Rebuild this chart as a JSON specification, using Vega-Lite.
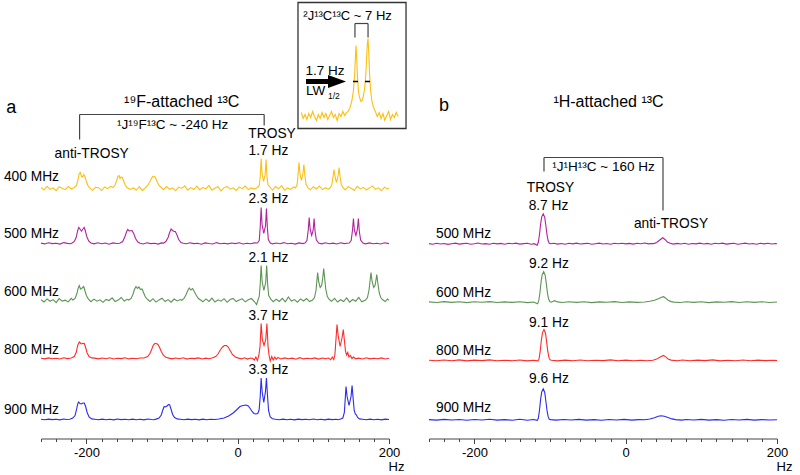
{
"$schema": "https://vega.github.io/schema/vega-lite/v6.json",
"padding": {"left": 3, "top": 1.5, "right": 5, "bottom": 5},
"background": "white",
"config": {
  "view": {"stroke": null},
  "font": "Liberation Sans",
  "text": {"font": "Liberation Sans", "color": "black", "baseline": "middle"},
  "axis": {"labelFont": "Liberation Sans", "titleFont": "Liberation Sans", "labelFontSize": 13, "labelColor": "black", "tickSize": {"condition": {"test": "datum.value % 200 == 0", "value": 5}, "value": 3}, "labelPadding": 3, "domainColor": "#444", "tickColor": "#444", "grid": false, "labelFlush": false, "labelOverlap": false, "titleFontWeight": "normal", "titleFontSize": 13, "titleColor": "black", "titleX": 347, "titleY": 28, "titleAlign": "left", "titleBaseline": "middle"}
},
"datasets": {
"a400": [{"x":-260,"y":251.0},{"x":-256,"y":248.5},{"x":-252,"y":252.2},{"x":-248,"y":249.2},{"x":-244,"y":250.5},{"x":-240,"y":247.8},{"x":-236,"y":251.8},{"x":-232,"y":250.2},{"x":-228,"y":248.8},{"x":-224,"y":252.0},{"x":-220,"y":249.5},
{"x":-216,"y":251},{"x":-213,"y":253},{"x":-211,"y":259},{"x":-209.5,"y":265},{"x":-208,"y":266},{"x":-206.5,"y":262},{"x":-205,"y":261.5},{"x":-203.5,"y":264},{"x":-202,"y":262},{"x":-200,"y":257},{"x":-198,"y":253},{"x":-196,"y":250.8},
{"x":-192,"y":248.2},{"x":-188,"y":251.2},{"x":-184,"y":250.8},{"x":-180,"y":248.0},{"x":-176,"y":251.5},{"x":-172,"y":249.8},{"x":-168,"y":252.2},
{"x":-165,"y":251},{"x":-162,"y":253.5},{"x":-160,"y":258},{"x":-158.5,"y":262},{"x":-157,"y":263},{"x":-155.5,"y":260},{"x":-154,"y":261.5},{"x":-152.5,"y":261},{"x":-151,"y":258},{"x":-149,"y":254},{"x":-146.5,"y":251},
{"x":-142,"y":249.0},{"x":-138,"y":250.5},{"x":-134,"y":248.5},{"x":-130,"y":251.8},{"x":-126,"y":247.8},
{"x":-122,"y":250.8},{"x":-119,"y":253},{"x":-116,"y":257},{"x":-114,"y":260},{"x":-112.5,"y":262},{"x":-111,"y":261.5},{"x":-109.5,"y":262},{"x":-108,"y":259.5},{"x":-106,"y":256},{"x":-104,"y":253},{"x":-101,"y":251},
{"x":-98,"y":248.8},{"x":-94,"y":252.0},{"x":-90,"y":249.2},{"x":-86,"y":250.6},{"x":-82,"y":247.9},{"x":-78,"y":251.4},{"x":-74,"y":250.1},{"x":-70,"y":252.6},{"x":-66,"y":248.3},{"x":-62,"y":250.9},{"x":-58,"y":249.0},{"x":-54,"y":252.3},{"x":-50,"y":248.6},{"x":-46,"y":251.1},{"x":-42,"y":249.6},{"x":-38,"y":253.0},{"x":-34,"y":248.2},{"x":-30,"y":250.5},{"x":-26,"y":251.8},{"x":-22,"y":247.7},{"x":-18,"y":250.9},{"x":-14,"y":252.1},{"x":-10,"y":249.3},{"x":-6,"y":250.7},{"x":-2,"y":248.1},{"x":2,"y":251.6},{"x":6,"y":249.8},{"x":10,"y":252.4},{"x":14,"y":248.9},{"x":18,"y":250.6},{"x":22,"y":249.4},
{"x":26,"y":251},{"x":28.5,"y":253},{"x":29.8,"y":262},{"x":31,"y":280},{"x":32.2,"y":265},{"x":34.2,"y":257},{"x":36.3,"y":264},{"x":37.5,"y":279},{"x":38.7,"y":262},{"x":40,"y":254},{"x":43,"y":251},
{"x":46,"y":248.5},{"x":50,"y":251.9},{"x":54,"y":249.7},{"x":58,"y":252.8},{"x":62,"y":248.4},{"x":66,"y":250.6},{"x":70,"y":249.1},{"x":74,"y":251.5},
{"x":76.5,"y":250.5},{"x":78.5,"y":254},{"x":79.8,"y":264},{"x":81,"y":276},{"x":82.3,"y":265},{"x":84.2,"y":258},{"x":86.2,"y":265},{"x":87.5,"y":274},{"x":88.8,"y":263},{"x":90.5,"y":254},{"x":93,"y":250.5},
{"x":96,"y":248.7},{"x":100,"y":251.8},{"x":104,"y":249.5},{"x":108,"y":252.5},{"x":112,"y":248.9},{"x":116,"y":250.8},{"x":120,"y":249.3},
{"x":122.5,"y":251},{"x":124.5,"y":254},{"x":126,"y":262},{"x":127.3,"y":269},{"x":128.6,"y":262},{"x":130.6,"y":256},{"x":132.7,"y":263},{"x":134,"y":271},{"x":135.3,"y":262},{"x":137,"y":254},{"x":139.5,"y":250.5},
{"x":142,"y":248.6},{"x":146,"y":251.9},{"x":150,"y":250.2},{"x":154,"y":248.0},{"x":158,"y":252.1},{"x":162,"y":249.6},{"x":166,"y":251.2},{"x":170,"y":248.7},{"x":174,"y":250.4},{"x":178,"y":252.6},{"x":182,"y":249.1},{"x":186,"y":250.7},{"x":190,"y":247.9},{"x":194,"y":251.3},{"x":198,"y":249.6},{"x":200,"y":250.4}],
"a500": [{"x":-260,"y":195.4},{"x":-255,"y":194.6},{"x":-250,"y":195.8},{"x":-245,"y":194.9},{"x":-240,"y":195.3},{"x":-235,"y":194.4},{"x":-230,"y":195.9},{"x":-225,"y":195.1},{"x":-221,"y":194.7},
{"x":-219,"y":195.5},{"x":-216,"y":197},{"x":-213.5,"y":201},{"x":-211.5,"y":208},{"x":-210,"y":211},{"x":-208.5,"y":209.5},{"x":-206.5,"y":207.5},{"x":-204.5,"y":209.5},{"x":-203,"y":211},{"x":-201.5,"y":208},{"x":-199.5,"y":202},{"x":-197,"y":197.5},{"x":-194,"y":195.5},
{"x":-190,"y":194.6},{"x":-185,"y":195.7},{"x":-180,"y":194.8},{"x":-175,"y":195.5},{"x":-170,"y":194.3},{"x":-165,"y":195.6},{"x":-160,"y":195.0},
{"x":-156,"y":195.3},{"x":-152,"y":197},{"x":-149,"y":202},{"x":-147,"y":206.5},{"x":-145.4,"y":209},{"x":-143.5,"y":207.5},{"x":-142,"y":207.8},{"x":-139.7,"y":208},{"x":-137.5,"y":205},{"x":-135,"y":200},{"x":-132,"y":196.5},{"x":-129,"y":195.2},
{"x":-125,"y":194.5},{"x":-120,"y":195.7},{"x":-115,"y":194.9},{"x":-110,"y":195.3},{"x":-105,"y":194.4},{"x":-101,"y":195.6},
{"x":-98,"y":195.4},{"x":-95,"y":197},{"x":-92,"y":201},{"x":-90,"y":206},{"x":-88,"y":209.5},{"x":-86,"y":208},{"x":-84,"y":207},{"x":-82.5,"y":207},{"x":-80.5,"y":204},{"x":-78,"y":199},{"x":-75,"y":196},{"x":-72,"y":195.3},
{"x":-68,"y":194.7},{"x":-63,"y":195.8},{"x":-58,"y":194.9},{"x":-53,"y":195.2},{"x":-48,"y":194.3},{"x":-43,"y":195.6},{"x":-38,"y":195.0},{"x":-33,"y":194.5},{"x":-28,"y":195.9},{"x":-23,"y":194.8},{"x":-18,"y":195.3},{"x":-13,"y":194.6},{"x":-8,"y":195.5},{"x":-3,"y":194.9},{"x":2,"y":195.7},{"x":7,"y":194.5},{"x":12,"y":195.2},{"x":17,"y":194.7},{"x":22,"y":195.6},
{"x":26,"y":195.5},{"x":28.5,"y":198},{"x":29.8,"y":212},{"x":31,"y":231},{"x":32.2,"y":214},{"x":34.5,"y":205},{"x":36.8,"y":213},{"x":38,"y":230},{"x":39.2,"y":211},{"x":40.5,"y":199},{"x":43,"y":195.5},
{"x":46,"y":194.6},{"x":51,"y":195.5},{"x":56,"y":194.8},{"x":61,"y":195.9},{"x":66,"y":194.7},{"x":71,"y":195.2},{"x":76,"y":194.4},{"x":81,"y":195.6},{"x":86,"y":194.9},
{"x":89,"y":195.5},{"x":91.5,"y":198},{"x":93.2,"y":208},{"x":94.5,"y":221},{"x":95.8,"y":209},{"x":97.8,"y":203},{"x":99.7,"y":208},{"x":101,"y":220},{"x":102.3,"y":207},{"x":104,"y":198.5},{"x":107,"y":195.5},
{"x":111,"y":194.6},{"x":116,"y":195.7},{"x":121,"y":194.8},{"x":126,"y":195.4},{"x":131,"y":194.5},{"x":136,"y":195.8},{"x":141,"y":194.9},{"x":144.5,"y":195.2},
{"x":147.5,"y":195.5},{"x":150,"y":198},{"x":151.7,"y":208},{"x":153,"y":220},{"x":154.3,"y":208},{"x":156.3,"y":203},{"x":158.2,"y":209},{"x":159.5,"y":220},{"x":160.8,"y":207},{"x":162.5,"y":198.5},{"x":165.5,"y":195.4},
{"x":169,"y":194.6},{"x":174,"y":195.6},{"x":179,"y":194.7},{"x":184,"y":195.3},{"x":189,"y":194.5},{"x":194,"y":195.8},{"x":200,"y":194.9}],
"a600": [{"x":-260,"y":138.8},{"x":-256,"y":136.5},{"x":-252,"y":139.6},{"x":-248,"y":137.2},{"x":-244,"y":138.9},{"x":-240,"y":135.8},{"x":-236,"y":139.9},{"x":-232,"y":137.4},{"x":-228,"y":138.3},{"x":-224,"y":136.6},{"x":-220,"y":140.2},
{"x":-218,"y":138.5},{"x":-215,"y":140},{"x":-212.5,"y":145},{"x":-211,"y":150},{"x":-209.4,"y":153},{"x":-207.8,"y":149.5},{"x":-206.2,"y":150},{"x":-205,"y":151},{"x":-203.6,"y":152},{"x":-202,"y":148},{"x":-200,"y":143},{"x":-197.5,"y":139.5},
{"x":-194,"y":136.8},{"x":-190,"y":139.4},{"x":-186,"y":137.3},{"x":-182,"y":138.7},{"x":-178,"y":136.2},{"x":-174,"y":139.1},{"x":-170,"y":138.0},{"x":-166,"y":140.6},{"x":-162,"y":136.9},{"x":-158,"y":138.4},{"x":-154,"y":141.0},{"x":-150,"y":137.5},{"x":-146,"y":139.2},
{"x":-144,"y":138.5},{"x":-141,"y":140},{"x":-138.5,"y":144},{"x":-136.5,"y":149},{"x":-134.4,"y":152},{"x":-132.5,"y":150},{"x":-130.5,"y":151.5},{"x":-128.5,"y":149},{"x":-126.5,"y":149.5},{"x":-124.5,"y":146},{"x":-122,"y":141.5},{"x":-119,"y":139},
{"x":-116,"y":137.1},{"x":-112,"y":139.8},{"x":-108,"y":136.4},{"x":-104,"y":138.6},{"x":-100,"y":140.3},{"x":-96,"y":137.0},{"x":-92,"y":138.9},{"x":-88,"y":136.3},{"x":-84,"y":139.5},{"x":-80,"y":137.6},{"x":-76,"y":139.0},
{"x":-74,"y":138.2},{"x":-71,"y":140},{"x":-68.5,"y":143.5},{"x":-66,"y":148},{"x":-64,"y":150.5},{"x":-62,"y":148.5},{"x":-59.5,"y":150},{"x":-57.5,"y":147},{"x":-55,"y":143.5},{"x":-52,"y":140},{"x":-49,"y":138.5},
{"x":-46,"y":136.7},{"x":-42,"y":139.6},{"x":-38,"y":137.1},{"x":-34,"y":140.4},{"x":-30,"y":136.5},{"x":-26,"y":138.7},{"x":-22,"y":137.3},{"x":-18,"y":139.8},{"x":-14,"y":136.2},{"x":-10,"y":138.9},{"x":-6,"y":140.1},{"x":-2,"y":136.9},{"x":2,"y":138.4},{"x":6,"y":139.7},{"x":10,"y":136.6},{"x":14,"y":138.8},{"x":18,"y":140.0},
{"x":22,"y":137},{"x":25,"y":134},{"x":27,"y":139},{"x":28.5,"y":142},{"x":29.8,"y":155},{"x":31,"y":173},{"x":32.3,"y":157},{"x":34.6,"y":148},{"x":37,"y":156},{"x":38.3,"y":173},{"x":39.6,"y":154},{"x":41,"y":143},{"x":44,"y":139},
{"x":47,"y":136.8},{"x":51,"y":139.3},{"x":55,"y":137.0},{"x":59,"y":140.2},{"x":63,"y":136.6},{"x":67,"y":141.5},{"x":71,"y":137.4},{"x":75,"y":138.9},{"x":79,"y":136.3},{"x":83,"y":139.6},{"x":87,"y":137.5},{"x":91,"y":140.0},{"x":95,"y":136.9},
{"x":99,"y":138.5},{"x":101.5,"y":141},{"x":103.5,"y":148},{"x":104.7,"y":158},{"x":105.7,"y":166},{"x":107,"y":157},{"x":109,"y":151},{"x":111,"y":153},{"x":112.5,"y":161},{"x":113.7,"y":170},{"x":115,"y":160},{"x":116.5,"y":149},{"x":118.5,"y":142},{"x":121,"y":139},
{"x":124,"y":137.2},{"x":128,"y":140.1},{"x":132,"y":136.5},{"x":136,"y":138.8},{"x":140,"y":137.0},{"x":144,"y":140.5},{"x":148,"y":136.4},{"x":152,"y":139.0},{"x":156,"y":137.3},{"x":160,"y":141.0},{"x":164,"y":136.8},
{"x":169,"y":138.5},{"x":171.5,"y":141},{"x":173.5,"y":148},{"x":175,"y":158},{"x":176.2,"y":166},{"x":177.7,"y":157},{"x":179.8,"y":151},{"x":181.5,"y":153},{"x":182.7,"y":158},{"x":183.8,"y":164},{"x":185.3,"y":155},{"x":187,"y":146},{"x":189,"y":141},{"x":192,"y":138.5},
{"x":195,"y":137.0},{"x":198,"y":139.5},{"x":200,"y":138.2}],
"a800": [{"x":-260,"y":80.3},{"x":-255,"y":79.6},{"x":-250,"y":80.6},{"x":-245,"y":79.8},{"x":-240,"y":80.2},{"x":-235,"y":79.5},{"x":-230,"y":80.7},{"x":-225,"y":79.9},
{"x":-220,"y":80.5},{"x":-216,"y":82},{"x":-213.5,"y":86},{"x":-211.5,"y":93},{"x":-209.4,"y":96.5},{"x":-207.5,"y":95},{"x":-206,"y":94.5},{"x":-204.5,"y":95.2},{"x":-202.8,"y":95},{"x":-201,"y":91},{"x":-199,"y":85.5},{"x":-196.5,"y":82},{"x":-193,"y":80.6},
{"x":-189,"y":80.4},{"x":-184,"y":79.6},{"x":-179,"y":80.5},{"x":-174,"y":79.8},{"x":-169,"y":80.7},{"x":-164,"y":79.5},{"x":-159,"y":80.3},{"x":-154,"y":79.9},{"x":-149,"y":80.8},{"x":-144,"y":79.6},{"x":-139,"y":80.2},{"x":-134,"y":79.7},{"x":-129,"y":80.5},
{"x":-124,"y":80.5},{"x":-119,"y":82},{"x":-116,"y":85},{"x":-113.5,"y":89.5},{"x":-111.5,"y":93.5},{"x":-109.5,"y":95},{"x":-107.5,"y":95},{"x":-105.5,"y":94},{"x":-103.5,"y":91.5},{"x":-101,"y":87},{"x":-98.5,"y":83.5},{"x":-95,"y":81.2},{"x":-91,"y":80.4},
{"x":-87,"y":79.6},{"x":-82,"y":80.5},{"x":-77,"y":79.8},{"x":-72,"y":80.7},{"x":-67,"y":79.4},{"x":-62,"y":80.3},{"x":-57,"y":79.9},{"x":-52,"y":80.6},{"x":-47,"y":79.5},{"x":-42,"y":80.4},{"x":-38,"y":79.8},
{"x":-34,"y":80.5},{"x":-29,"y":82},{"x":-26,"y":84.5},{"x":-23,"y":88.5},{"x":-20,"y":91.5},{"x":-17.5,"y":93},{"x":-15,"y":93},{"x":-12.5,"y":91.5},{"x":-10,"y":88},{"x":-7,"y":84},{"x":-3,"y":81.5},{"x":1,"y":80.4},
{"x":5,"y":79.6},{"x":9,"y":80.7},{"x":13,"y":79.4},{"x":17,"y":80.5},
{"x":20,"y":80},{"x":22,"y":78.5},{"x":24,"y":81.5},{"x":26,"y":78},{"x":28,"y":83},{"x":29.5,"y":92},{"x":31,"y":115},{"x":32.5,"y":99},{"x":34.8,"y":93},{"x":37.1,"y":99},{"x":38.6,"y":115},{"x":40.1,"y":92},{"x":41.5,"y":83},{"x":43,"y":77.5},{"x":45,"y":82},{"x":47,"y":78.5},{"x":49,"y":81.5},{"x":51,"y":79.2},{"x":53,"y":81},
{"x":57,"y":79.5},{"x":62,"y":80.6},{"x":67,"y":79.7},{"x":72,"y":80.4},{"x":77,"y":79.3},{"x":82,"y":80.8},{"x":87,"y":79.6},{"x":92,"y":80.3},{"x":97,"y":79.8},{"x":102,"y":80.6},{"x":107,"y":79.4},{"x":112,"y":80.5},{"x":116,"y":79.7},
{"x":120,"y":80.5},{"x":123,"y":78.8},{"x":125,"y":81.5},{"x":127,"y":79},{"x":128.5,"y":84},{"x":129.8,"y":98},{"x":131.3,"y":114},{"x":132.8,"y":103},{"x":135.4,"y":92},{"x":138,"y":101},{"x":139.6,"y":109},{"x":141.2,"y":97},{"x":142.5,"y":87},{"x":144,"y":83.5},{"x":145.5,"y":86},{"x":147,"y":81.5},{"x":149,"y":83},{"x":151,"y":80},{"x":153,"y":81.5},{"x":156,"y":79.7},
{"x":160,"y":80.4},{"x":165,"y":79.5},{"x":170,"y":80.7},{"x":175,"y":79.6},{"x":180,"y":80.3},{"x":185,"y":79.8},{"x":190,"y":80.6},{"x":195,"y":79.5},{"x":200,"y":80.2}],
"a900": [{"x":-260,"y":19.2},{"x":-255,"y":18.7},{"x":-250,"y":19.4},{"x":-245,"y":18.9},{"x":-240,"y":19.3},{"x":-235,"y":18.6},{"x":-230,"y":19.5},{"x":-226,"y":19.0},
{"x":-222,"y":19.3},{"x":-218,"y":20.5},{"x":-215,"y":23},{"x":-213,"y":29},{"x":-211.5,"y":34.5},{"x":-210.2,"y":36.5},{"x":-208.5,"y":35},{"x":-206.5,"y":34.5},{"x":-204.5,"y":35.5},{"x":-202.8,"y":35.5},{"x":-201,"y":32},{"x":-199,"y":26},{"x":-196.5,"y":21.5},{"x":-193,"y":19.6},
{"x":-189,"y":19.3},{"x":-184,"y":18.7},{"x":-179,"y":19.4},{"x":-174,"y":18.8},{"x":-169,"y":19.2},{"x":-164,"y":18.6},{"x":-159,"y":19.5},{"x":-154,"y":18.9},{"x":-149,"y":19.3},{"x":-144,"y":18.7},{"x":-139,"y":19.4},{"x":-134,"y":18.8},{"x":-129,"y":19.2},{"x":-124,"y":18.6},{"x":-119,"y":19.5},{"x":-114,"y":19.0},{"x":-111,"y":18.8},
{"x":-108,"y":19.4},{"x":-104,"y":20.5},{"x":-101,"y":23.5},{"x":-99,"y":28.5},{"x":-97.2,"y":32},{"x":-95.5,"y":31.5},{"x":-93.5,"y":32.5},{"x":-91.5,"y":34},{"x":-90,"y":33.8},{"x":-88,"y":29},{"x":-86,"y":24},{"x":-83.5,"y":21},{"x":-80,"y":19.6},
{"x":-76,"y":19.3},{"x":-71,"y":18.7},{"x":-66,"y":19.4},{"x":-61,"y":18.9},{"x":-56,"y":19.2},{"x":-51,"y":18.6},{"x":-46,"y":19.4},{"x":-41,"y":18.8},{"x":-36,"y":19.3},{"x":-30,"y":19.0},
{"x":-25,"y":19.5},{"x":-18,"y":20.5},{"x":-12,"y":22.5},{"x":-6,"y":25.5},{"x":-1,"y":29},{"x":3,"y":32},{"x":7,"y":33},{"x":11,"y":33.5},{"x":14,"y":32.5},{"x":16.5,"y":30},{"x":19,"y":27},{"x":21.5,"y":25},{"x":24,"y":24.5},{"x":26.5,"y":25},{"x":28.3,"y":28.5},{"x":29.8,"y":42},{"x":31,"y":60.5},{"x":32.3,"y":47},{"x":34.5,"y":36},{"x":36.7,"y":47},{"x":38,"y":60.5},{"x":39.3,"y":44},{"x":40.8,"y":28},{"x":43,"y":21.5},{"x":46,"y":19.8},
{"x":50,"y":19.2},{"x":55,"y":18.7},{"x":60,"y":19.4},{"x":65,"y":18.8},{"x":70,"y":19.3},{"x":75,"y":18.6},{"x":80,"y":19.4},{"x":85,"y":18.9},{"x":90,"y":19.2},{"x":95,"y":18.7},{"x":100,"y":19.5},{"x":105,"y":18.8},{"x":110,"y":19.3},{"x":115,"y":18.6},{"x":120,"y":19.4},{"x":125,"y":18.9},{"x":130,"y":19.2},{"x":133,"y":18.8},
{"x":136,"y":19.5},{"x":139,"y":20.5},{"x":141,"y":26},{"x":142,"y":38},{"x":143.2,"y":52},{"x":144.6,"y":42},{"x":147.2,"y":33},{"x":149.8,"y":42},{"x":151.2,"y":53},{"x":152.6,"y":40},{"x":154,"y":28},{"x":155.5,"y":24.5},{"x":157,"y":23.5},{"x":158.5,"y":21},{"x":161,"y":19.6},
{"x":165,"y":19.3},{"x":170,"y":18.7},{"x":175,"y":19.4},{"x":180,"y":18.8},{"x":185,"y":19.3},{"x":190,"y":18.6},{"x":195,"y":19.4},{"x":200,"y":19.0}],
"inset": [{"x":84,"y":326},{"x":86.5,"y":320},{"x":89,"y":324},{"x":91.5,"y":319},{"x":94,"y":325},{"x":96.5,"y":321},{"x":99,"y":327},{"x":101.5,"y":322},{"x":104,"y":318},{"x":106.5,"y":324},{"x":109,"y":320},{"x":111.5,"y":326},{"x":114,"y":321},{"x":116.5,"y":325},{"x":119,"y":319},{"x":121.5,"y":323},{"x":124,"y":327},{"x":126.5,"y":321},{"x":129,"y":324},{"x":131.5,"y":318},{"x":134,"y":325},{"x":136.5,"y":322},{"x":139,"y":327},{"x":141.5,"y":323},{"x":144,"y":326},
{"x":146,"y":327},{"x":148.5,"y":331},{"x":151,"y":338},{"x":153,"y":348},{"x":154.7,"y":365},{"x":155.7,"y":383},{"x":156.4,"y":393},{"x":157.2,"y":382},{"x":158.3,"y":362},{"x":159.8,"y":346},{"x":161.5,"y":340},{"x":163,"y":337},{"x":164.5,"y":338},{"x":166,"y":342},{"x":167.8,"y":350},{"x":169.5,"y":366},{"x":170.7,"y":385},{"x":171.5,"y":396},{"x":172.3,"y":400},{"x":173.1,"y":388},{"x":174.3,"y":365},{"x":175.8,"y":347},{"x":177.5,"y":337},{"x":179.5,"y":331},{"x":182,"y":327},
{"x":184.5,"y":322},{"x":187,"y":326},{"x":189.5,"y":320},{"x":192,"y":325},{"x":194.5,"y":318},{"x":197,"y":323},{"x":199.5,"y":327},{"x":202,"y":319},{"x":204.5,"y":324},{"x":207,"y":321},{"x":209.5,"y":326},{"x":212,"y":322}],
"shapesA": [{"g":"bracket","x":-209,"y":324,"x2":35,"y2":324},{"g":"bracket","x":-209,"y":324,"x2":-209,"y2":299},{"g":"bracket","x":35,"y":324,"x2":35,"y2":313},
{"g":"bracket","x":155,"y":415,"x2":172.3,"y2":415},{"g":"bracket","x":155,"y":415,"x2":155,"y2":401},{"g":"bracket","x":172.3,"y":415,"x2":172.3,"y2":401},
{"g":"half","x":152.4,"y":357,"x2":159,"y2":357},{"g":"half","x":168.3,"y":357,"x2":174.9,"y2":357},
{"g":"arrow","x":90.3,"y":357,"x2":126,"y2":357},{"g":"head","x":131.3,"y":357,"x2":131.3,"y2":357},
{"g":"box","x":79.7,"y":310,"x2":222.5,"y2":436}],
"textA": [{"g":"panel","x":-306,"y":331,"t":"a"},
{"g":"title","x":-74,"y":337,"t":"¹⁹F-attached ¹³C"},
{"g":"coupling","x":-86,"y":314,"t":"¹J¹⁹F¹³C ~ -240 Hz"},
{"g":"peak","x":-193,"y":285,"t":"anti-TROSY"},
{"g":"peak","x":45.4,"y":305,"t":"TROSY"},
{"g":"peak","x":40.7,"y":288,"t":"1.7 Hz"},
{"g":"peak","x":40.7,"y":240,"t":"2.3 Hz"},
{"g":"peak","x":40.7,"y":181,"t":"2.1 Hz"},
{"g":"peak","x":40.7,"y":123,"t":"3.7 Hz"},
{"g":"peak","x":40.7,"y":69,"t":"3.3 Hz"},
{"g":"field","x":-309,"y":262,"t":"400 MHz"},
{"g":"field","x":-309,"y":205,"t":"500 MHz"},
{"g":"field","x":-309,"y":147,"t":"600 MHz"},
{"g":"field","x":-309,"y":89,"t":"800 MHz"},
{"g":"field","x":-309,"y":29,"t":"900 MHz"},
{"g":"insetTitle","x":145.2,"y":423,"t":"²J¹³C¹³C ~ 7 Hz"},
{"g":"insetLabel","x":115.4,"y":368,"t":"1.7 Hz"},
{"g":"lw","x":90.3,"y":348,"t":"LW"},
{"g":"sub","x":119.4,"y":343,"t":"1/2"}],
"b500": [{"x":-260,"y":194.9},{"x":-255,"y":194.3},{"x":-250,"y":195.2},{"x":-245,"y":194.5},{"x":-240,"y":195.0},{"x":-235,"y":194.1},{"x":-230,"y":194.8},{"x":-225,"y":195.4},{"x":-220,"y":194.4},{"x":-215,"y":194.9},{"x":-210,"y":195.3},{"x":-205,"y":194.2},{"x":-200,"y":194.8},{"x":-195,"y":195.5},{"x":-190,"y":194.5},{"x":-185,"y":194.9},{"x":-180,"y":194.2},{"x":-175,"y":195.3},{"x":-170,"y":194.6},{"x":-165,"y":195.1},{"x":-160,"y":194.3},{"x":-155,"y":195.2},{"x":-150,"y":194.7},{"x":-145,"y":195.4},{"x":-140,"y":194.4},{"x":-135,"y":194.9},{"x":-130,"y":195.3},{"x":-125,"y":194.2},{"x":-121,"y":194.8},
{"x":-117,"y":193.2},{"x":-115.5,"y":196.2},{"x":-114,"y":203.7},{"x":-112.5,"y":214.2},{"x":-111,"y":221.7},{"x":-109,"y":224.7},{"x":-107,"y":221.1},{"x":-105.5,"y":212.7},{"x":-104,"y":203.7},{"x":-102.5,"y":197.7},{"x":-101,"y":195.3},{"x":-99,"y":194.7},
{"x":-95,"y":195.3},{"x":-90,"y":194.4},{"x":-85,"y":195.0},{"x":-80,"y":194.3},{"x":-75,"y":195.2},{"x":-70,"y":194.6},{"x":-65,"y":195.4},{"x":-60,"y":194.5},{"x":-55,"y":194.9},{"x":-50,"y":195.3},{"x":-45,"y":194.2},{"x":-40,"y":194.8},{"x":-35,"y":195.4},{"x":-30,"y":194.5},{"x":-25,"y":195.0},{"x":-20,"y":194.3},{"x":-15,"y":195.2},{"x":-10,"y":194.7},{"x":-5,"y":195.3},{"x":0,"y":194.6},{"x":5,"y":195.1},{"x":10,"y":194.4},{"x":15,"y":195.2},{"x":20,"y":194.8},{"x":25,"y":195.5},{"x":30,"y":194.6},{"x":33,"y":194.9},
{"x":37,"y":194.9},{"x":41,"y":196.0},{"x":45,"y":198.5},{"x":49,"y":200.7},{"x":52,"y":199.0},{"x":55,"y":196.5},{"x":59,"y":195.2},
{"x":63,"y":194.4},{"x":68,"y":195.1},{"x":73,"y":194.5},{"x":78,"y":195.3},{"x":83,"y":194.3},{"x":88,"y":195.0},{"x":93,"y":194.6},{"x":98,"y":195.4},{"x":103,"y":194.5},{"x":108,"y":195.1},{"x":113,"y":194.3},{"x":118,"y":195.2},{"x":123,"y":194.7},{"x":128,"y":195.4},{"x":133,"y":194.4},{"x":138,"y":194.9},{"x":143,"y":195.3},{"x":148,"y":194.2},{"x":153,"y":194.8},{"x":158,"y":195.4},{"x":163,"y":194.5},{"x":168,"y":195.0},{"x":173,"y":194.3},{"x":178,"y":195.2},{"x":183,"y":194.6},{"x":188,"y":195.3},{"x":193,"y":194.5},{"x":198,"y":195.0},{"x":200,"y":194.8}],
"b600": [{"x":-260,"y":136.6},{"x":-250,"y":136.0},{"x":-240,"y":136.9},{"x":-230,"y":136.1},{"x":-220,"y":136.7},{"x":-210,"y":135.9},{"x":-200,"y":136.8},{"x":-190,"y":136.2},{"x":-180,"y":136.9},{"x":-170,"y":136.0},{"x":-160,"y":136.6},{"x":-150,"y":136.1},{"x":-140,"y":136.8},{"x":-130,"y":135.9},{"x":-122,"y":136.5},
{"x":-116.4,"y":134.8},{"x":-114.9,"y":137.8},{"x":-113.4,"y":145.5},{"x":-111.9,"y":156.1},{"x":-110.4,"y":163.8},{"x":-108.4,"y":166.8},{"x":-106.4,"y":163.1},{"x":-104.9,"y":154.6},{"x":-103.4,"y":145.5},{"x":-101.9,"y":139.4},{"x":-100.4,"y":136.9},{"x":-98.4,"y":136.3},{"x":-94,"y":137.8},{"x":-90,"y":136.6},
{"x":-84,"y":136.0},{"x":-75,"y":136.8},{"x":-65,"y":136.1},{"x":-55,"y":136.7},{"x":-45,"y":135.9},{"x":-35,"y":136.6},{"x":-25,"y":136.2},{"x":-15,"y":136.9},{"x":-5,"y":136.0},{"x":5,"y":136.6},{"x":15,"y":136.1},
{"x":25,"y":136.5},{"x":32,"y":137.2},{"x":38,"y":138.3},{"x":44,"y":140.0},{"x":48,"y":141.5},{"x":50,"y":141.8},{"x":53,"y":140.3},{"x":56,"y":138.3},{"x":60,"y":136.9},{"x":64,"y":136.4},
{"x":72,"y":136.0},{"x":80,"y":136.7},{"x":90,"y":136.1},{"x":100,"y":136.8},{"x":110,"y":135.9},{"x":120,"y":136.6},{"x":130,"y":136.2},{"x":140,"y":136.9},{"x":150,"y":136.0},{"x":160,"y":136.7},{"x":170,"y":136.1},{"x":180,"y":136.8},{"x":190,"y":136.0},{"x":200,"y":136.5}],
"b800": [{"x":-260,"y":78.3},{"x":-250,"y":77.7},{"x":-240,"y":78.5},{"x":-230,"y":77.8},{"x":-220,"y":78.6},{"x":-210,"y":77.6},{"x":-200,"y":78.4},{"x":-190,"y":77.9},{"x":-180,"y":78.6},{"x":-170,"y":77.7},{"x":-160,"y":78.3},{"x":-150,"y":77.8},{"x":-140,"y":78.5},{"x":-130,"y":77.6},{"x":-122,"y":78.2},
{"x":-116,"y":77.6},{"x":-114.5,"y":79.6},{"x":-113,"y":87.3},{"x":-111.5,"y":98.2},{"x":-110,"y":105.9},{"x":-108,"y":109.0},{"x":-106,"y":105.3},{"x":-104.5,"y":96.6},{"x":-103,"y":87.3},{"x":-101.5,"y":81.1},{"x":-100,"y":78.6},{"x":-98,"y":78.2},
{"x":-90,"y":77.6},{"x":-80,"y":78.4},{"x":-70,"y":77.8},{"x":-60,"y":78.5},{"x":-50,"y":77.7},{"x":-40,"y":78.3},{"x":-30,"y":77.9},{"x":-20,"y":78.6},{"x":-10,"y":77.7},{"x":0,"y":78.4},{"x":10,"y":77.8},{"x":20,"y":78.3},{"x":28,"y":77.7},
{"x":36,"y":78.2},{"x":41,"y":79.4},{"x":45,"y":81.2},{"x":50,"y":83.0},{"x":53,"y":81.6},{"x":56,"y":79.5},{"x":60,"y":78.4},
{"x":68,"y":77.8},{"x":75,"y":78.5},{"x":85,"y":77.7},{"x":95,"y":78.4},{"x":105,"y":77.9},{"x":115,"y":78.6},{"x":125,"y":77.6},{"x":135,"y":78.3},{"x":145,"y":77.8},{"x":155,"y":78.5},{"x":165,"y":77.7},{"x":175,"y":78.4},{"x":185,"y":77.9},{"x":195,"y":78.3},{"x":200,"y":78.0}],
"b900": [{"x":-260,"y":18.9},{"x":-250,"y":18.4},{"x":-240,"y":19.1},{"x":-230,"y":18.5},{"x":-220,"y":19.0},{"x":-210,"y":18.3},{"x":-200,"y":19.0},{"x":-190,"y":18.5},{"x":-180,"y":19.2},{"x":-170,"y":18.4},{"x":-160,"y":18.9},{"x":-150,"y":18.3},{"x":-140,"y":19.3},{"x":-130,"y":18.2},{"x":-122,"y":19.0},
{"x":-117,"y":18.1},{"x":-115.5,"y":20.2},{"x":-114,"y":28.0},{"x":-112.5,"y":38.9},{"x":-111,"y":46.6},{"x":-109,"y":49.7},{"x":-107,"y":46.0},{"x":-105.5,"y":37.3},{"x":-104,"y":28.0},{"x":-102.5,"y":21.8},{"x":-101,"y":19.3},{"x":-99,"y":18.9},
{"x":-92,"y":18.4},{"x":-82,"y":19.0},{"x":-72,"y":18.5},{"x":-62,"y":19.1},{"x":-52,"y":18.4},{"x":-42,"y":18.9},{"x":-32,"y":18.3},{"x":-22,"y":19.0},{"x":-12,"y":18.5},{"x":-2,"y":19.1},{"x":8,"y":18.4},{"x":17,"y":18.9},
{"x":25,"y":18.8},{"x":32,"y":19.5},{"x":38,"y":20.8},{"x":43,"y":22.2},{"x":47,"y":22.7},{"x":51,"y":22.3},{"x":56,"y":21.0},{"x":61,"y":19.6},{"x":66,"y":18.9},
{"x":74,"y":18.4},{"x":80,"y":19.0},{"x":90,"y":18.5},{"x":100,"y":19.1},{"x":110,"y":18.4},{"x":120,"y":18.9},{"x":130,"y":18.3},{"x":140,"y":19.0},{"x":150,"y":18.5},{"x":160,"y":19.1},{"x":170,"y":18.4},{"x":180,"y":18.9},{"x":190,"y":18.5},{"x":200,"y":18.8}],
"shapesB": [{"g":"bracket","x":-108,"y":281,"x2":49.3,"y2":281},{"g":"bracket","x":-108,"y":281,"x2":-108,"y2":267},{"g":"bracket","x":49.3,"y":281,"x2":49.3,"y2":228}],
"textB": [{"g":"panel","x":-246.8,"y":333,"t":"b"},
{"g":"title","x":-22.7,"y":337,"t":"¹H-attached ¹³C"},
{"g":"coupling","x":-29.3,"y":272,"t":"¹J¹H¹³C ~ 160 Hz"},
{"g":"peak","x":-99.4,"y":251,"t":"TROSY"},
{"g":"peak","x":-102,"y":233,"t":"8.7 Hz"},
{"g":"peak","x":59.9,"y":215,"t":"anti-TROSY"},
{"g":"peak","x":-101.4,"y":175,"t":"9.2 Hz"},
{"g":"peak","x":-101.4,"y":116,"t":"9.1 Hz"},
{"g":"peak","x":-101.4,"y":60,"t":"9.6 Hz"},
{"g":"field","x":-250.7,"y":205,"t":"500 MHz"},
{"g":"field","x":-250.7,"y":146,"t":"600 MHz"},
{"g":"field","x":-250.7,"y":88,"t":"800 MHz"},
{"g":"field","x":-250.7,"y":31,"t":"900 MHz"}]
},
"spacing": 40,
"bounds": "flush",
"hconcat": [
{
  "width": 348, "height": 436,
  "encoding": {
    "x": {"field": "x", "type": "quantitative", "scale": {"domain": [-260, 200], "nice": false, "zero": false},
          "axis": {"title": "Hz", "values": [-260,-240,-220,-200,-180,-160,-140,-120,-100,-80,-60,-40,-20,0,20,40,60,80,100,120,140,160,180,200], "labelExpr": "datum.value % 200 == 0 ? '' + datum.value : ''"}},
    "y": {"field": "y", "type": "quantitative", "scale": {"domain": [0, 436], "nice": false, "zero": false}, "axis": null}
  },
  "layer": [
    {"data": {"name": "a400"}, "mark": {"type": "line", "color": "#FDBF12", "strokeWidth": 1.1}, "encoding": {}},
    {"data": {"name": "a500"}, "mark": {"type": "line", "color": "#B1239E", "strokeWidth": 1.1}, "encoding": {}},
    {"data": {"name": "a600"}, "mark": {"type": "line", "color": "#5B9453", "strokeWidth": 1.1}, "encoding": {}},
    {"data": {"name": "a800"}, "mark": {"type": "line", "color": "#FF2B2B", "strokeWidth": 1.1}, "encoding": {}},
    {"data": {"name": "a900"}, "mark": {"type": "line", "color": "#2A2AF0", "strokeWidth": 1.1}, "encoding": {}},
    {"data": {"name": "inset"}, "mark": {"type": "line", "color": "#FDBF12", "strokeWidth": 1.1}, "encoding": {}},
    {"data": {"name": "shapesA"}, "transform": [{"filter": "datum.g == 'box'"}], "mark": {"type": "rect", "fill": null, "fillOpacity": 0, "stroke": "#333", "strokeWidth": 1.3}, "encoding": {"x2": {"field": "x2"}, "y2": {"field": "y2"}}},
    {"data": {"name": "shapesA"}, "transform": [{"filter": "datum.g == 'bracket'"}], "mark": {"type": "rule", "color": "#444", "strokeWidth": 1.2}, "encoding": {"x2": {"field": "x2"}, "y2": {"field": "y2"}}},
    {"data": {"name": "shapesA"}, "transform": [{"filter": "datum.g == 'half'"}], "mark": {"type": "rule", "color": "black", "strokeWidth": 1.5}, "encoding": {"x2": {"field": "x2"}, "y2": {"field": "y2"}}},
    {"data": {"name": "shapesA"}, "transform": [{"filter": "datum.g == 'arrow'"}], "mark": {"type": "rule", "color": "black", "strokeWidth": 5}, "encoding": {"x2": {"field": "x2"}, "y2": {"field": "y2"}}},
    {"data": {"name": "shapesA"}, "transform": [{"filter": "datum.g == 'head'"}], "mark": {"type": "point", "shape": "M-1,-0.72L1,0L-1,0.72Z", "size": 324, "filled": true, "color": "black", "opacity": 1, "strokeWidth": 0}, "encoding": {}},
    {"data": {"name": "textA"}, "transform": [{"filter": "datum.g == 'panel'"}], "mark": {"type": "text", "fontSize": 18, "align": "left"}, "encoding": {"text": {"field": "t"}}},
    {"data": {"name": "textA"}, "transform": [{"filter": "datum.g == 'title'"}], "mark": {"type": "text", "fontSize": 16, "align": "center"}, "encoding": {"text": {"field": "t"}}},
    {"data": {"name": "textA"}, "transform": [{"filter": "datum.g == 'coupling'"}], "mark": {"type": "text", "fontSize": 13.5, "align": "center"}, "encoding": {"text": {"field": "t"}}},
    {"data": {"name": "textA"}, "transform": [{"filter": "datum.g == 'peak'"}], "mark": {"type": "text", "fontSize": 13.75, "align": "center"}, "encoding": {"text": {"field": "t"}}},
    {"data": {"name": "textA"}, "transform": [{"filter": "datum.g == 'field'"}], "mark": {"type": "text", "fontSize": 13.75, "align": "left"}, "encoding": {"text": {"field": "t"}}},
    {"data": {"name": "textA"}, "transform": [{"filter": "datum.g == 'insetTitle'"}], "mark": {"type": "text", "fontSize": 13, "align": "center"}, "encoding": {"text": {"field": "t"}}},
    {"data": {"name": "textA"}, "transform": [{"filter": "datum.g == 'insetLabel'"}], "mark": {"type": "text", "fontSize": 13.5, "align": "center"}, "encoding": {"text": {"field": "t"}}},
    {"data": {"name": "textA"}, "transform": [{"filter": "datum.g == 'lw'"}], "mark": {"type": "text", "fontSize": 13.5, "align": "left"}, "encoding": {"text": {"field": "t"}}},
    {"data": {"name": "textA"}, "transform": [{"filter": "datum.g == 'sub'"}], "mark": {"type": "text", "fontSize": 8.5, "align": "left"}, "encoding": {"text": {"field": "t"}}}
  ]
},
{
  "width": 348, "height": 436,
  "encoding": {
    "x": {"field": "x", "type": "quantitative", "scale": {"domain": [-260, 200], "nice": false, "zero": false},
          "axis": {"title": "Hz", "values": [-260,-240,-220,-200,-180,-160,-140,-120,-100,-80,-60,-40,-20,0,20,40,60,80,100,120,140,160,180,200], "labelExpr": "datum.value % 200 == 0 ? '' + datum.value : ''"}},
    "y": {"field": "y", "type": "quantitative", "scale": {"domain": [0, 436], "nice": false, "zero": false}, "axis": null}
  },
  "layer": [
    {"data": {"name": "b500"}, "mark": {"type": "line", "color": "#B1239E", "strokeWidth": 1.1}, "encoding": {}},
    {"data": {"name": "b600"}, "mark": {"type": "line", "color": "#5B9453", "strokeWidth": 1.1}, "encoding": {}},
    {"data": {"name": "b800"}, "mark": {"type": "line", "color": "#FF2B2B", "strokeWidth": 1.1}, "encoding": {}},
    {"data": {"name": "b900"}, "mark": {"type": "line", "color": "#2A2AF0", "strokeWidth": 1.1}, "encoding": {}},
    {"data": {"name": "shapesB"}, "mark": {"type": "rule", "color": "#444", "strokeWidth": 1.2}, "encoding": {"x2": {"field": "x2"}, "y2": {"field": "y2"}}},
    {"data": {"name": "textB"}, "transform": [{"filter": "datum.g == 'panel'"}], "mark": {"type": "text", "fontSize": 18, "align": "left"}, "encoding": {"text": {"field": "t"}}},
    {"data": {"name": "textB"}, "transform": [{"filter": "datum.g == 'title'"}], "mark": {"type": "text", "fontSize": 16, "align": "center"}, "encoding": {"text": {"field": "t"}}},
    {"data": {"name": "textB"}, "transform": [{"filter": "datum.g == 'coupling'"}], "mark": {"type": "text", "fontSize": 13.5, "align": "center"}, "encoding": {"text": {"field": "t"}}},
    {"data": {"name": "textB"}, "transform": [{"filter": "datum.g == 'peak'"}], "mark": {"type": "text", "fontSize": 13.75, "align": "center"}, "encoding": {"text": {"field": "t"}}},
    {"data": {"name": "textB"}, "transform": [{"filter": "datum.g == 'field'"}], "mark": {"type": "text", "fontSize": 13.75, "align": "left"}, "encoding": {"text": {"field": "t"}}}
  ]
}
]
}
